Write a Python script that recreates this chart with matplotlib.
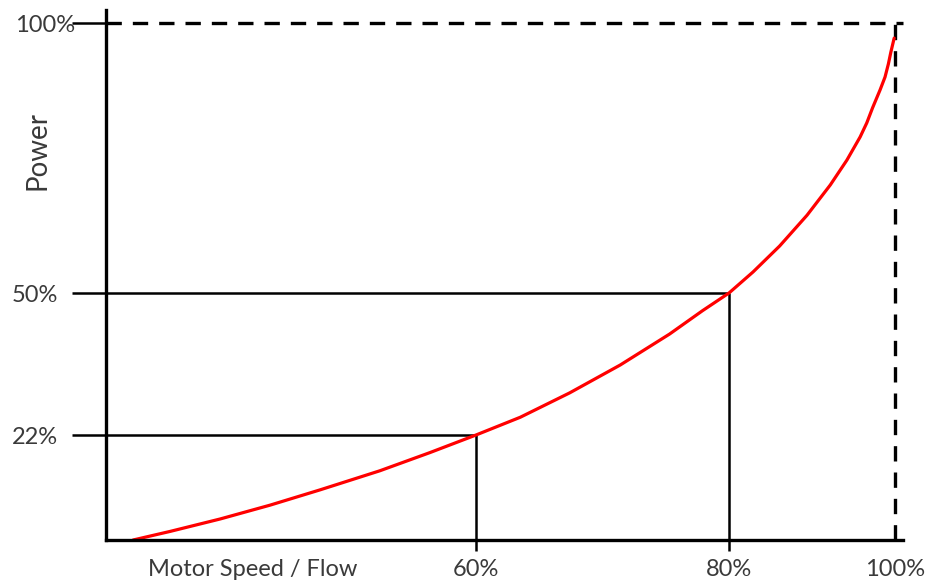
import numpy as np
import matplotlib
matplotlib.use("Agg")
from matplotlib import pyplot as plt

# values
speed_ticks = [60, 80, 100]
speed_labels = ["60%", "80%", "100%"]
power_ticks = [22, 50, 100]
power_labels = ["22%", "50%", "100%"]

curve_speed = [4.4, 10.4, 18.5, 26.6, 34.7, 44.4, 52.5, 60, 63.5, 67.4, 71.4,
               75.3, 77.9, 80, 82.9, 86.1, 89.4, 92.2, 94.2, 95.8, 96.6, 97.3,
               98.2, 98.8, 99.2, 99.5, 99.9]
curve_power = [0, 1.8, 4.4, 7.3, 10.5, 14.5, 18.3, 22, 25.5, 30.3, 35.8,
               41.9, 46.5, 50, 53.9, 58.7, 64.4, 70.0, 74.6, 78.9, 81.5, 84.3,
               87.6, 90.0, 92.4, 94.6, 97.2]

# the sketch is not to scale, so map values onto the drawn positions
x_vals = [0, 60, 80, 100, 120]
x_pos = [0, 370, 623, 789, 955]
y_vals = [0, 22, 50, 100, 120]
y_pos = [0, 105, 247, 517, 625]


def fwd_x(v):
    return np.interp(v, x_vals, x_pos)


def inv_x(p):
    return np.interp(p, x_pos, x_vals)


def fwd_y(v):
    return np.interp(v, y_vals, y_pos)


def inv_y(p):
    return np.interp(p, y_pos, y_vals)


plt.rcParams['font.family'] = ['Lato', 'DejaVu Sans']
txt_color = '#3a3a3a'

fig = plt.figure(figsize=(9.35, 5.81), dpi=100)
ax = fig.add_axes([106/935, 41/581, 797/935, 530/581])

ax.set_xscale('function', functions=(fwd_x, inv_x))
ax.set_yscale('function', functions=(fwd_y, inv_y))
xmax = float(inv_x(797))
ymax = float(inv_y(530))
ax.set_xlim(0, xmax)
ax.set_ylim(0, ymax)

for s in ['top', 'right']:
    ax.spines[s].set_visible(False)
for s in ['left', 'bottom']:
    ax.spines[s].set_linewidth(2.4)

dash = (0, (4.6, 3.3))

# guide lines
for sp, pw in zip(speed_ticks[:2], power_ticks[:2]):
    ax.plot([0, sp], [pw, pw], color='black', lw=1.8, solid_capstyle='butt')
    ax.plot([sp, sp], [0, pw], color='black', lw=1.8, solid_capstyle='butt')

ax.plot([0, xmax], [power_ticks[2], power_ticks[2]], color='black', lw=2.4,
        linestyle=dash, clip_on=False)
ax.plot([speed_ticks[2], speed_ticks[2]], [0, 100.9], color='black', lw=2.4,
        linestyle=dash, clip_on=False)

# power curve
ax.plot(curve_speed, curve_power, color='#ff0000', lw=2.3, clip_on=False,
        solid_capstyle='round', solid_joinstyle='round')

ax.set_xticks(speed_ticks, speed_labels)
ax.set_yticks(power_ticks, power_labels)
ax.minorticks_off()
ax.tick_params(axis='x', length=8, width=1.8, pad=5.7, labelsize=17,
               labelcolor=txt_color)
ax.tick_params(axis='y', length=24.5, width=1.8, pad=10, labelsize=17,
               labelcolor=txt_color)

xt = ax.xaxis.get_major_ticks()
xt[2].tick1line.set_visible(False)
yt = ax.yaxis.get_major_ticks()
yt[2].tick1line.set_markersize(13.7)
yt[2].set_pad(-2.2)

ax.annotate("Motor Speed / Flow", xy=(42/797, 0), xycoords='axes fraction',
            xytext=(0, -13.7), textcoords='offset points', ha='left', va='top',
            fontsize=17, color=txt_color, annotation_clip=False)

ax.text(-68/797, 390/530, "Power", transform=ax.transAxes, rotation=90,
        ha='center', va='center', fontsize=20, color=txt_color)

plt.savefig("out.png", dpi=100)
